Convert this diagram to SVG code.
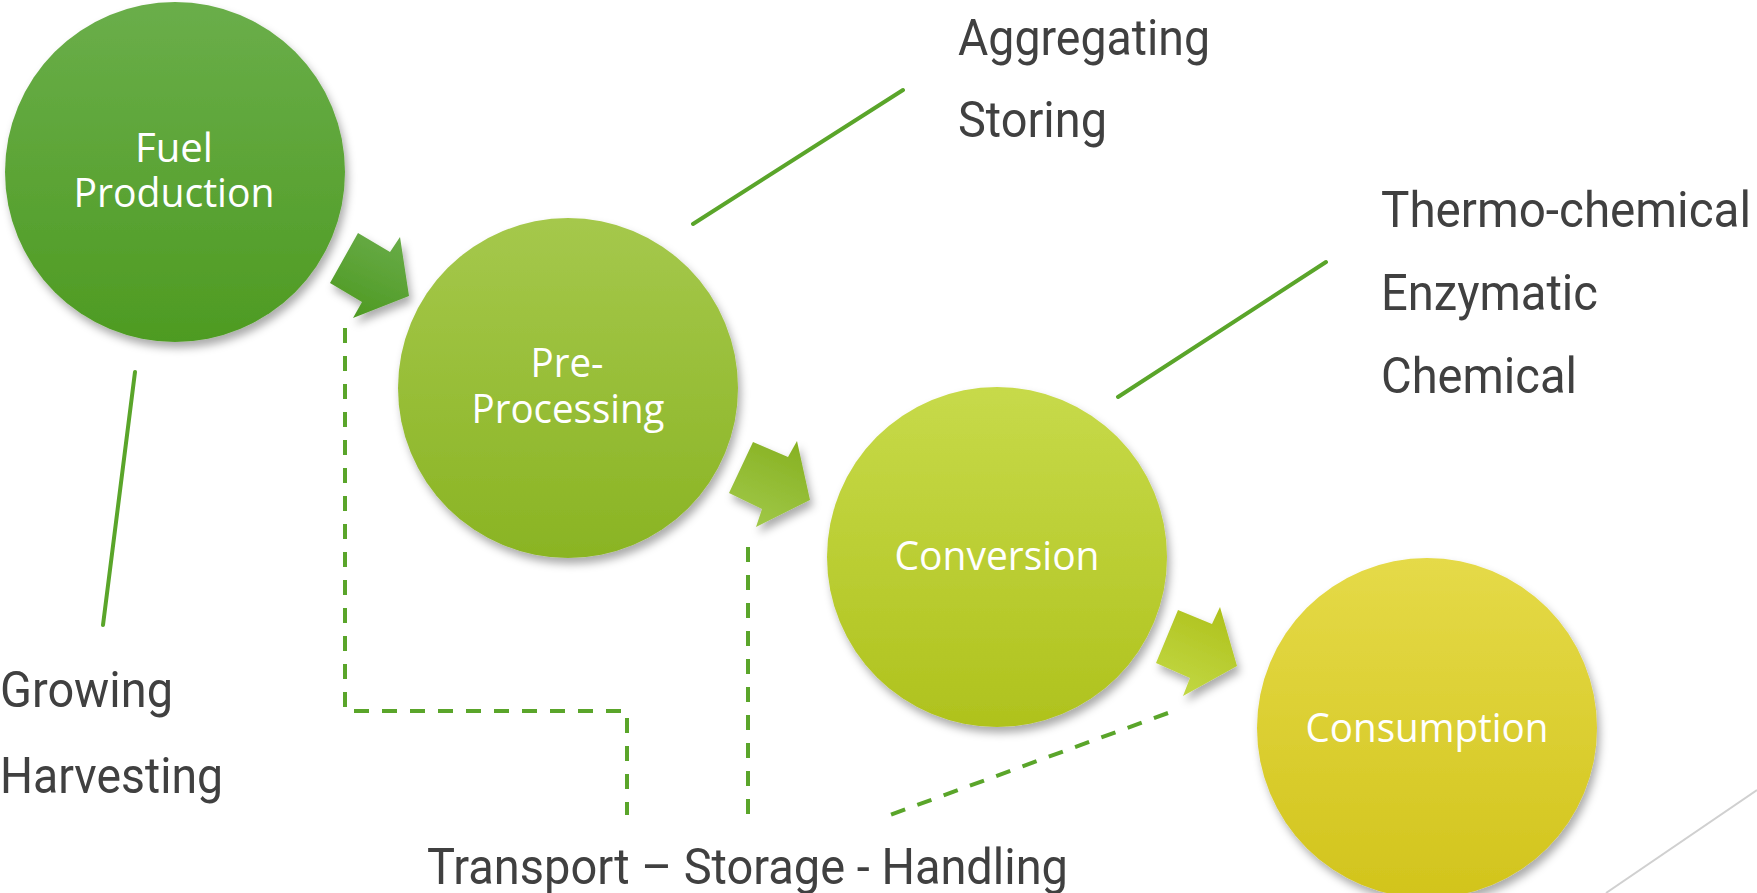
<svg xmlns="http://www.w3.org/2000/svg" width="1757" height="893" viewBox="0 0 1757 893">
  <defs>
    <linearGradient id="g1" x1="0" y1="0" x2="0" y2="1"><stop offset="0" stop-color="#6aae4a"/><stop offset="1" stop-color="#4e9b22"/></linearGradient>
    <linearGradient id="g2" x1="0" y1="0" x2="0" y2="1"><stop offset="0" stop-color="#a5c84c"/><stop offset="1" stop-color="#8ab423"/></linearGradient>
    <linearGradient id="g3" x1="0" y1="0" x2="0" y2="1"><stop offset="0" stop-color="#c7da4a"/><stop offset="1" stop-color="#afc21d"/></linearGradient>
    <linearGradient id="g4" x1="0" y1="0" x2="0" y2="1"><stop offset="0" stop-color="#e5da48"/><stop offset="1" stop-color="#d2c41c"/></linearGradient>
    <linearGradient id="a1" x1="0.7" y1="0" x2="0.3" y2="1"><stop offset="0" stop-color="#68ab47"/><stop offset="1" stop-color="#4e9a22"/></linearGradient>
    <linearGradient id="a2" x1="0.7" y1="0" x2="0.3" y2="1"><stop offset="0" stop-color="#88b223"/><stop offset="1" stop-color="#a0c848"/></linearGradient>
    <linearGradient id="a3" x1="0.7" y1="0" x2="0.3" y2="1"><stop offset="0" stop-color="#afc21d"/><stop offset="1" stop-color="#c2d844"/></linearGradient>
    <filter id="sh" x="-20%" y="-20%" width="140%" height="140%">
      <feDropShadow dx="3" dy="6" stdDeviation="4" flood-color="#000" flood-opacity="0.33"/>
    </filter>
  </defs>
  <style>
    .node-label { font-family: "Open Sans", "Noto Sans", sans-serif; font-size: 41px; fill: #ffffff; text-anchor: middle; }
    .side { font-family: Roboto, "Liberation Sans", sans-serif; font-size: 50px; fill: #404040; }
    .dash { fill: none; stroke: #5aa52a; stroke-width: 4; stroke-dasharray: 15 13; }
    .callout { fill: none; stroke: #5aa52a; stroke-width: 4; stroke-linecap: round; }
  </style>
  <rect width="1757" height="893" fill="#ffffff"/>

  <line x1="1757" y1="790" x2="1606" y2="893" stroke="#d0d0d0" stroke-width="2"/>

  <g id="connectors">
    <line class="callout" x1="135" y1="372" x2="103" y2="625"/>
    <line class="callout" x1="903" y1="90" x2="693" y2="224"/>
    <line class="callout" x1="1326" y1="262" x2="1118" y2="397"/>
    <polyline class="dash" points="345,328 345,711 627,711 627,815"/>
    <line class="dash" x1="748" y1="547" x2="748" y2="815"/>
    <line class="dash" x1="1168" y1="713" x2="890" y2="815"/>
    <polygon fill="url(#a1)" filter="url(#sh)" points="358,233 390,252 400,237 409,296 353,318 362,302 330,283"/>
    <polygon fill="url(#a2)" filter="url(#sh)" points="753,442 788,457 797,441 810,500 756,527 762,509 729,493"/>
    <polygon fill="url(#a3)" filter="url(#sh)" points="1178,610 1212,624 1220,607 1237,666 1183,696 1190,678 1156,663"/>
  </g>

  <g id="node-fuel-production">
    <circle cx="175" cy="172" r="170" fill="url(#g1)" filter="url(#sh)"/>
    <text class="node-label" x="174" y="162" textLength="78" lengthAdjust="spacingAndGlyphs">Fuel</text>
    <text class="node-label" x="174" y="207" textLength="201" lengthAdjust="spacingAndGlyphs">Production</text>
  </g>
  <g id="node-pre-processing">
    <circle cx="568" cy="388" r="170" fill="url(#g2)" filter="url(#sh)"/>
    <text class="node-label" x="567" y="377" textLength="73" lengthAdjust="spacingAndGlyphs">Pre-</text>
    <text class="node-label" x="568" y="423" textLength="193" lengthAdjust="spacingAndGlyphs">Processing</text>
  </g>
  <g id="node-conversion">
    <circle cx="997" cy="557" r="170" fill="url(#g3)" filter="url(#sh)"/>
    <text class="node-label" x="997" y="570" textLength="205" lengthAdjust="spacingAndGlyphs">Conversion</text>
  </g>
  <g id="node-consumption">
    <circle cx="1427" cy="728" r="170" fill="url(#g4)" filter="url(#sh)"/>
    <text class="node-label" x="1427" y="742" textLength="243" lengthAdjust="spacingAndGlyphs">Consumption</text>
  </g>

  <g id="label-production">
    <text class="side" x="0" y="707" textLength="173" lengthAdjust="spacingAndGlyphs">Growing</text>
    <text class="side" x="0" y="793" textLength="223" lengthAdjust="spacingAndGlyphs">Harvesting</text>
  </g>
  <g id="label-preprocessing">
    <text class="side" x="958" y="55" textLength="252" lengthAdjust="spacingAndGlyphs">Aggregating</text>
    <text class="side" x="958" y="137" textLength="149" lengthAdjust="spacingAndGlyphs">Storing</text>
  </g>
  <g id="label-conversion">
    <text class="side" x="1381" y="227" textLength="370" lengthAdjust="spacingAndGlyphs">Thermo-chemical</text>
    <text class="side" x="1381" y="310" textLength="217" lengthAdjust="spacingAndGlyphs">Enzymatic</text>
    <text class="side" x="1381" y="393" textLength="196" lengthAdjust="spacingAndGlyphs">Chemical</text>
  </g>
  <g id="label-logistics">
    <text class="side" x="427" y="884" textLength="641" lengthAdjust="spacingAndGlyphs">Transport – Storage - Handling</text>
  </g>
</svg>
